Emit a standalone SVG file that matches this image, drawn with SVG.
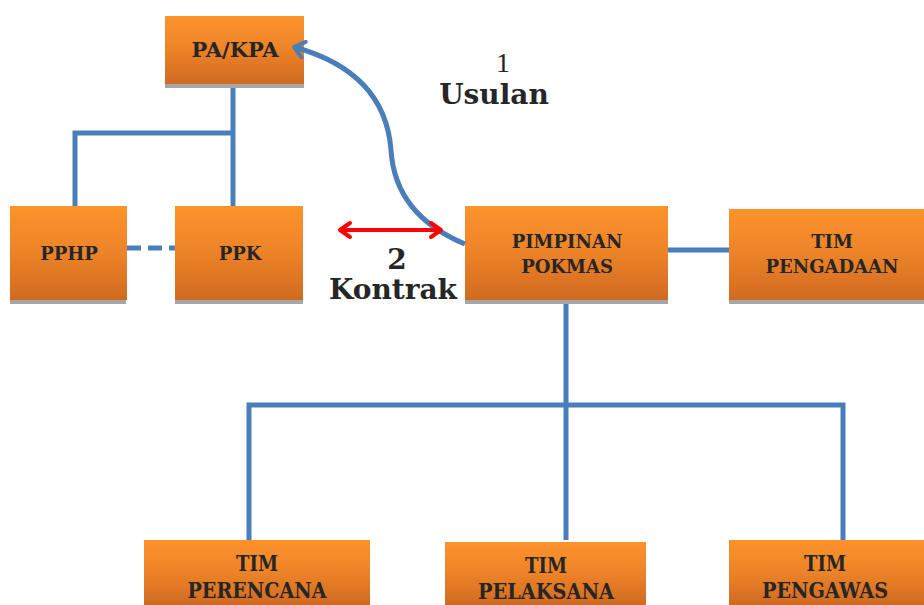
<svg xmlns="http://www.w3.org/2000/svg" width="924" height="605" viewBox="0 0 924 605">
<defs>
<linearGradient id="og" x1="0" y1="0" x2="0" y2="1">
<stop offset="0" stop-color="#fd932c"/>
<stop offset="0.5" stop-color="#ec8328"/>
<stop offset="1" stop-color="#d06a20"/>
</linearGradient>
<marker id="bh" viewBox="0 0 20 20" refX="16" refY="10" markerWidth="20" markerHeight="20" markerUnits="userSpaceOnUse" orient="auto-start-reverse">
<path d="M6 2 L16 10 L6 18" fill="none" stroke="#4a7ebb" stroke-width="4" stroke-linecap="round" stroke-linejoin="round"/>
</marker>
<marker id="rh" viewBox="0 0 20 20" refX="17" refY="10" markerWidth="20" markerHeight="20" markerUnits="userSpaceOnUse" orient="auto-start-reverse">
<path d="M7 3 L17 10 L7 17" fill="none" stroke="#ff0000" stroke-width="4" stroke-linecap="round" stroke-linejoin="round"/>
</marker>
</defs>
<style>
.box{fill:url(#og)}
.sh{fill:#a6a6a6}
.t{font-family:"DejaVu Serif",serif;font-weight:bold;font-size:18px;fill:#262626;text-anchor:middle}
.tc{font-family:"DejaVu Serif",serif;font-weight:bold;font-size:22px;fill:#262626;text-anchor:middle}
.ln{stroke:#4a7ebb;stroke-width:5;fill:none}
.lbl{font-family:"DejaVu Serif",serif;font-weight:bold;font-size:28px;fill:#262626;text-anchor:middle}
</style>
<rect width="924" height="605" fill="#ffffff"/>
<g id="pakpa">
<rect class="sh" x="165" y="84" width="139" height="4"/>
<rect class="box" x="165" y="16" width="139" height="68"/>
<text class="t" x="235" y="57" style="font-size:21px">PA/KPA</text>
</g>
<g id="pphp">
<rect class="sh" x="10" y="300" width="116" height="4"/>
<rect class="box" x="10" y="206" width="117" height="94"/>
<text class="t" x="69" y="260">PPHP</text>
</g>
<g id="ppk">
<rect class="sh" x="175" y="300" width="128" height="4"/>
<rect class="box" x="175" y="206" width="128" height="94"/>
<text class="t" x="240" y="260">PPK</text>
</g>
<g id="pimpinan">
<rect class="sh" x="465" y="300" width="203" height="4"/>
<rect class="box" x="465" y="206" width="203" height="94"/>
<text class="t" x="567" y="248">PIMPINAN</text>
<text class="t" x="567" y="273">POKMAS</text>
</g>
<g id="pengadaan">
<rect class="sh" x="729" y="300" width="195" height="4"/>
<rect class="box" x="729" y="209" width="195" height="91"/>
<text class="t" x="832" y="248">TIM</text>
<text class="t" x="832" y="273">PENGADAAN</text>
</g>
<g id="perencana">
<rect class="box" x="144" y="540" width="226" height="65"/>
<text class="tc" x="257" y="571" textLength="42" lengthAdjust="spacingAndGlyphs">TIM</text>
<text class="tc" x="257" y="598" textLength="139" lengthAdjust="spacingAndGlyphs">PERENCANA</text>
</g>
<g id="pelaksana">
<rect class="box" x="445" y="542" width="201" height="63"/>
<text class="tc" x="546" y="573" textLength="42" lengthAdjust="spacingAndGlyphs">TIM</text>
<text class="tc" x="546" y="599" textLength="136" lengthAdjust="spacingAndGlyphs">PELAKSANA</text>
</g>
<g id="pengawas">
<rect class="box" x="729" y="540" width="195" height="65"/>
<text class="tc" x="825" y="571" textLength="42" lengthAdjust="spacingAndGlyphs">TIM</text>
<text class="tc" x="825" y="598" textLength="126" lengthAdjust="spacingAndGlyphs">PENGAWAS</text>
</g>
<g id="connectors">
<line class="ln" x1="233" y1="88" x2="233" y2="206"/>
<polyline class="ln" points="75,206 75,133 233,133"/>
<line class="ln" x1="127" y1="248" x2="175" y2="248" stroke-dasharray="14,7"/>
<line class="ln" x1="668" y1="250" x2="729" y2="250"/>
<line class="ln" x1="566" y1="304" x2="566" y2="540"/>
<polyline class="ln" points="249,540 249,405 843,405 843,540"/>
<path class="ln" d="M 465 244 Q 395 215 391 150 Q 385 72 294 47" marker-end="url(#bh)"/>
<line x1="340" y1="230" x2="441" y2="230" stroke="#ff0000" stroke-width="4" marker-start="url(#rh)" marker-end="url(#rh)"/>
</g>
<g id="labels">
<text x="503" y="72" font-family="'Liberation Serif',serif" font-size="28" fill="#262626" text-anchor="middle">1</text>
<text class="lbl" x="494" y="104">Usulan</text>
<text class="lbl" x="397" y="269">2</text>
<text class="lbl" x="393" y="299">Kontrak</text>
</g>
</svg>
